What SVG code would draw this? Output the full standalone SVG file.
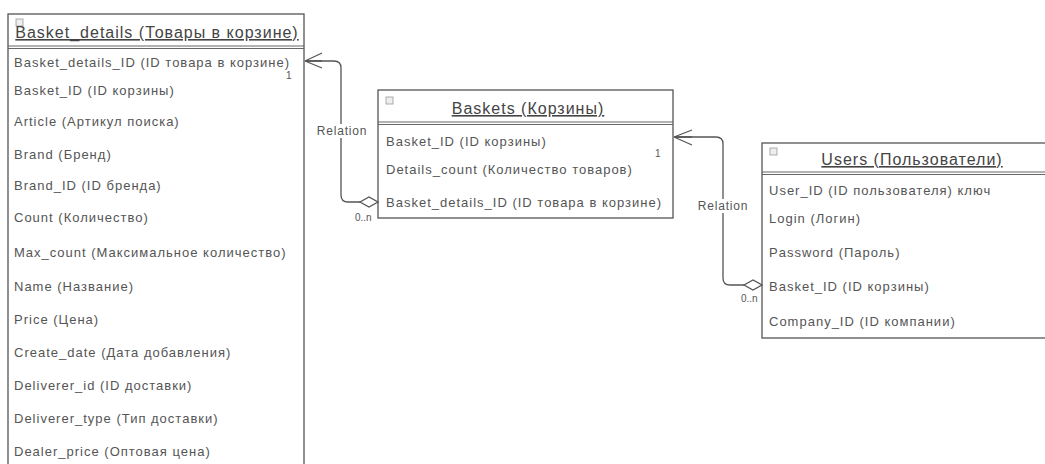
<svg xmlns="http://www.w3.org/2000/svg" width="1045" height="464" viewBox="0 0 1045 464">
<style>
.box{fill:#fff;stroke:#555;stroke-width:1.3}
.div{stroke:#666;stroke-width:1;fill:none}
.title{font-family:"Liberation Sans",Arial,sans-serif;font-size:16px;letter-spacing:1px;fill:#444;text-anchor:middle;text-decoration:underline}
.row{font-family:"Liberation Sans",Arial,sans-serif;font-size:13px;letter-spacing:1px;fill:#555}
.lbl{font-family:"Liberation Sans",Arial,sans-serif;font-size:12px;letter-spacing:0.8px;fill:#555}
.sm{font-family:"Liberation Sans",Arial,sans-serif;font-size:10px;fill:#555}
.icon{fill:#eee;stroke:#999;stroke-width:0.8}
.conn{fill:none;stroke:#555;stroke-width:1.3}
.dia{fill:#fff;stroke:#555;stroke-width:1.3}
</style>
<rect width="1045" height="464" fill="#fff"/>
<g id="basket_details">
  <rect class="box" x="8" y="14" width="296" height="460"/>
  <line class="div" x1="8" y1="46" x2="304" y2="46"/>
  <line class="div" x1="8" y1="48.5" x2="304" y2="48.5"/>
  <rect class="icon" x="16" y="19" width="7" height="7"/>
  <text class="title" x="157" y="38">Basket_details (Товары в корзине)</text>
  <text class="row" x="14" y="67">Basket_details_ID (ID товара в корзине)</text>
  <text class="row" x="14" y="95">Basket_ID (ID корзины)</text>
  <text class="row" x="14" y="126">Article (Артикул поиска)</text>
  <text class="row" x="14" y="159">Brand (Бренд)</text>
  <text class="row" x="14" y="190">Brand_ID (ID бренда)</text>
  <text class="row" x="14" y="222">Count (Количество)</text>
  <text class="row" x="14" y="257">Max_count (Максимальное количество)</text>
  <text class="row" x="14" y="291">Name (Название)</text>
  <text class="row" x="14" y="324">Price (Цена)</text>
  <text class="row" x="14" y="357">Create_date (Дата добавления)</text>
  <text class="row" x="14" y="390">Deliverer_id (ID доставки)</text>
  <text class="row" x="14" y="423">Deliverer_type (Тип доставки)</text>
  <text class="row" x="14" y="456">Dealer_price (Оптовая цена)</text>
</g>
<g id="baskets">
  <rect class="box" x="378" y="90" width="295" height="128"/>
  <line class="div" x1="378" y1="122" x2="673" y2="122"/>
  <line class="div" x1="378" y1="124.5" x2="673" y2="124.5"/>
  <rect class="icon" x="386" y="97" width="7" height="7"/>
  <text class="title" x="528" y="114">Baskets (Корзины)</text>
  <text class="row" x="386" y="146">Basket_ID (ID корзины)</text>
  <text class="row" x="386" y="174">Details_count (Количество товаров)</text>
  <text class="row" x="386" y="207">Basket_details_ID (ID товара в корзине)</text>
</g>
<g id="users">
  <rect class="box" x="762" y="143" width="290" height="195"/>
  <line class="div" x1="762" y1="172" x2="1045" y2="172"/>
  <line class="div" x1="762" y1="174.5" x2="1045" y2="174.5"/>
  <rect class="icon" x="770" y="148" width="7" height="7"/>
  <text class="title" x="912" y="165">Users (Пользователи)</text>
  <text class="row" x="769" y="195">User_ID (ID пользователя) ключ</text>
  <text class="row" x="769" y="223">Login (Логин)</text>
  <text class="row" x="769" y="257">Password (Пароль)</text>
  <text class="row" x="769" y="291">Basket_ID (ID корзины)</text>
  <text class="row" x="769" y="326">Company_ID (ID компании)</text>
</g>
<g id="connectors">
  <path class="conn" d="M305 61 L334 61 Q341 61 341 68 L341 195 Q341 202 348 202 L360 202"/>
  <path class="conn" d="M305 61 L322 53 M305 61 L322 61 M305 61 L322 68"/>
  <polygon class="dia" points="360,202 369,197 378,202 369,207"/>
  <rect x="316" y="124" width="52" height="14" fill="#fff"/>
  <text class="lbl" x="342" y="135" text-anchor="middle">Relation</text>
  <text class="sm" x="286" y="79">1</text>
  <text class="sm" x="355" y="221">0..n</text>
  <path class="conn" d="M674 137 L716 137 Q723 137 723 144 L723 278 Q723 285 730 285 L744 285"/>
  <path class="conn" d="M674 137 L692 130 M674 137 L692 137 M674 137 L692 145"/>
  <polygon class="dia" points="744,285 753,280 762,285 753,290"/>
  <rect x="697" y="199" width="52" height="14" fill="#fff"/>
  <text class="lbl" x="723" y="210" text-anchor="middle">Relation</text>
  <text class="sm" x="655" y="157">1</text>
  <text class="sm" x="741" y="302">0..n</text>
</g>
</svg>
